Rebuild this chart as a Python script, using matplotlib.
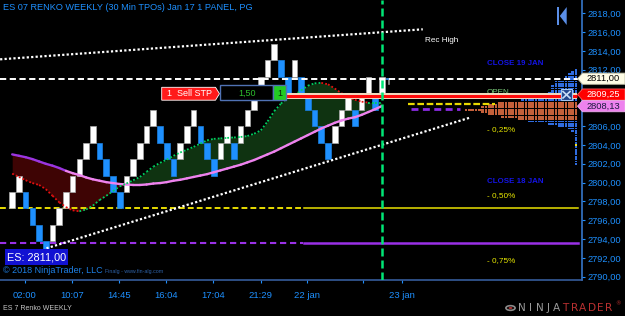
import matplotlib
matplotlib.use("Agg")
import matplotlib.pyplot as plt
import numpy as np
from matplotlib.patches import Rectangle, Polygon, Circle
from matplotlib.collections import LineCollection, PatchCollection

FONT = ['Liberation Sans', 'DejaVu Sans']
plt.rcParams['font.family'] = FONT

# ------------------------------------------------------------------ data
title = "ES 07 RENKO WEEKLY (30 Min TPOs) Jan 17 1 PANEL, PG"
brick_size = 1.75
brick_low = [2797.25, 2799.00, 2797.25, 2795.50, 2793.75, 2792.00, 2793.75, 2795.50, 2797.25, 2799.00,
             2800.75, 2802.50, 2804.25, 2802.50, 2800.75, 2799.00, 2797.25, 2799.00, 2800.75, 2802.50,
             2804.25, 2806.00, 2804.25, 2802.50, 2800.75, 2802.50, 2804.25, 2806.00, 2804.25, 2802.50,
             2800.75, 2802.50, 2804.25, 2802.50, 2804.25, 2806.00, 2807.75, 2809.50, 2811.25, 2813.00,
             2811.25, 2809.50, 2811.25, 2809.50, 2807.75, 2806.00, 2804.25, 2802.50, 2804.25, 2806.00,
             2807.75, 2806.00, 2807.75, 2809.50, 2807.75, 2809.50]
brick_dir = "UUDDDDUUUUUUUDDDDUUUUUDDDUUUDDDUUDUUUUUUDDUDDDDDUUUDUUDU"

ma_slow = [2803.00, 2802.85, 2802.70, 2802.50, 2802.25, 2802.00, 2801.80, 2801.55, 2801.25, 2801.00,
           2800.80, 2800.55, 2800.35, 2800.20, 2800.05, 2799.95, 2799.85, 2799.80, 2799.75, 2799.75,
           2799.80, 2799.90, 2799.95, 2800.05, 2800.20, 2800.30, 2800.45, 2800.60, 2800.75, 2800.90,
           2801.10, 2801.30, 2801.50, 2801.70, 2801.90, 2802.15, 2802.40, 2802.70, 2803.00, 2803.30,
           2803.65, 2804.00, 2804.35, 2804.70, 2805.05, 2805.40, 2805.75, 2806.05, 2806.35, 2806.60,
           2806.80, 2806.95, 2807.20, 2807.50, 2807.80, 2808.13]
ma_fast = [2800.95, 2800.60, 2800.25, 2799.95, 2799.75, 2799.30, 2798.60, 2797.90, 2797.40, 2797.05,
           2796.95, 2797.15, 2797.55, 2798.15, 2798.60, 2799.10, 2799.60, 2799.90, 2800.25, 2800.60,
           2801.15, 2801.70, 2802.10, 2802.45, 2802.85, 2803.20, 2803.50, 2803.80, 2804.15, 2804.50,
           2804.65, 2804.70, 2804.75, 2804.80, 2804.85, 2804.95, 2805.20, 2805.55, 2806.50, 2807.60,
           2808.40, 2809.00, 2809.30, 2809.80, 2810.30, 2810.55, 2810.60, 2810.45, 2810.00, 2809.50,
           2809.10, 2808.80, 2808.60, 2808.50, 2808.50, 2808.50]

time_tick_pos = [1.9, 8.9, 15.9, 22.9, 29.9, 37.0, 43.9, 52.2, 58.05]
time_tick_labels = ['02:00', '10:07', '14:45', '16:04', '17:04', '21:29', '22 jan', '', '23 jan']
price_ticks = [2790, 2792, 2794, 2796, 2798, 2800, 2802, 2804, 2806, 2808, 2810, 2812, 2814, 2816, 2818]
price_hidden = [2808, 2810]   # covered by the price markers

last_price = 2811.00
stop_price = 2809.25
ma_last = 2808.13
stop_qty = "1,50"
level_yellow = 2797.25
level_purple = 2793.55
session_col = 43.3          # start of 22 jan session
now_col = 55.1              # current bar (green vertical)

trend_upper_x = [-1.8, 61.1]
trend_upper_y = [2813.10, 2816.29]
trend_lower_x = [5.1, 68.1]
trend_lower_y = [2793.02, 2806.90]
proj_yellow_x = [58.9, 71.9]
proj_yellow_y = 2808.32
proj_purple_x = [59.3, 66.6]
proj_purple_y = 2807.82

profile_price = [2812.00, 2811.75, 2811.50, 2811.25, 2811.00, 2810.75, 2810.50, 2810.25, 2810.00, 2809.75,
                 2809.50, 2809.25, 2809.00, 2808.75, 2808.50, 2808.25, 2808.00, 2807.75, 2807.50, 2807.25,
                 2807.00, 2806.75, 2806.50, 2806.25, 2806.00, 2805.75, 2805.50, 2805.25, 2805.00, 2804.75,
                 2804.50, 2804.25, 2804.00, 2803.75, 2803.50, 2803.25, 2803.00, 2802.75, 2802.50, 2802.25,
                 2802.00]
profile_count = [1, 2, 3, 4, 4, 7, 7, 8, 8, 8,
                 9, 12, 17, 17, 24, 27, 29, 34, 29, 27,
                 23, 18, 15, 9, 6, 3, 2, 1, 1, 1,
                 1, 1, 1, 1, 1, 1, 1, 1, 1, 1,
                 1]
value_area = [2806.75, 2808.50]
profile_mark = 2804.00

# ------------------------------------------------------------------ figure
W, H = 625, 316
fig = plt.figure(figsize=(W / 100, H / 100), dpi=100, facecolor='black')
AXR, AXB = 581.7, 280.0
ax = fig.add_axes([0, 1 - AXB / H, AXR / W, AXB / H])
ax.set_facecolor('black')
ax.set_xlim(-1.815, 84.75)
ax.set_ylim(2789.65, 2819.405)


def fx(px):
    return px / W


def fy(py):
    return 1 - py / H


def pcol(px):          # figure pixel -> column position (annotation placement)
    return (px - 12.2) / 6.72


def ypx(price):        # price -> figure pixel row
    return H - ax.transData.transform((0, price))[1]


FT = fig.transFigure
cols = np.arange(len(brick_low))
mcols = np.arange(len(ma_slow))
slow = np.array(ma_slow)
fast = np.array(ma_fast)

# fill between averages
ax.fill_between(mcols, slow, fast, where=fast < slow, interpolate=True, color='#3E0404', lw=0, zorder=1)
ax.fill_between(mcols, slow, fast, where=fast >= slow, interpolate=True, color='#0F3311', lw=0, zorder=1)

# horizontal levels
ax.plot([-1.815, session_col], [level_yellow] * 2, color='#E8DC00', lw=1.4, ls=(0, (3, 1.6)), zorder=2)
ax.plot([session_col + 0.1, pcol(578)], [level_yellow] * 2, color='#E8E000', lw=1.1, zorder=2)
ax.plot([-1.815, session_col], [level_purple] * 2, color='#9A30E6', lw=1.5, ls=(0, (3, 1.8)), zorder=2)
ax.plot([session_col + 0.1, pcol(578)], [level_purple] * 2, color='#9A30E6', lw=1.8, zorder=2)

# bricks
up = np.array([c == 'U' for c in brick_dir])
low = np.array(brick_low)
ax.bar(cols[up], brick_size, bottom=low[up], width=0.84, color='white', edgecolor='#A8A8A8', lw=0.5, zorder=3)
ax.bar(cols[~up], brick_size, bottom=low[~up], width=0.84, color='#1E90FF', edgecolor='#1A7FE0', lw=0.5, zorder=3)

# forming brick marker
ax.plot([len(brick_low) + 0.05] * 2, [last_price - 0.55, last_price - 0.05], color='#909090', lw=1.2, zorder=3)
ax.plot([len(brick_low) - 0.25, len(brick_low) + 0.35], [last_price] * 2, color='#3A8EE8', lw=1.3, zorder=3)

# volume/TPO profile
blocks_b, blocks_o, blocks_y = [], [], []
right_col = pcol(577.3)
step = 3.33 / 6.72
bw = 2.6 / 6.72
for p, n in zip(profile_price, profile_count):
    for k in range(n):
        r = Rectangle((right_col - k * step - bw, p - 0.095), bw, 0.19)
        if p == profile_mark and k == 0:
            blocks_y.append(r)
        elif value_area[0] <= p <= value_area[1]:
            blocks_o.append(r)
        else:
            blocks_b.append(r)
ax.add_collection(PatchCollection(blocks_b, facecolor='#2F6CE0', edgecolor='none', zorder=4))
ax.add_collection(PatchCollection(blocks_o, facecolor='#C4603A', edgecolor='none', zorder=4))
ax.add_collection(PatchCollection(blocks_y, facecolor='#F0E020', edgecolor='none', zorder=4))

# slow average (purple falling / violet rising)
pts = np.column_stack([mcols, slow])
segs = np.stack([pts[:-1], pts[1:]], axis=1)
seg_cols = ['#9B35E0' if i < 8 else '#EE82EE' for i in range(len(segs))]
ax.add_collection(LineCollection(segs, colors=seg_cols, linewidths=1.7, zorder=6, capstyle='round'))

# fast average dotted, green rising red falling
pts = np.column_stack([mcols, fast])
segs = np.stack([pts[:-1], pts[1:]], axis=1)
seg_cols = ['#00D060' if fast[i + 1] >= fast[i] else '#E81010' for i in range(len(segs))]
ax.add_collection(LineCollection(segs, colors=seg_cols, linewidths=1.3, linestyles=[(0, (1, 1.2))], zorder=6))

# trend lines
ax.plot(trend_upper_x, trend_upper_y, color='white', lw=1.6, ls=(0, (1, 1)), dash_capstyle='butt', zorder=7)
ax.plot(trend_lower_x, trend_lower_y, color='white', lw=1.6, ls=(0, (1, 1)), dash_capstyle='butt', zorder=7)

# projections
ax.plot(proj_yellow_x, [proj_yellow_y] * 2, color='#E8D800', lw=1.6, ls=(0, (3, 1.2)), zorder=7)
ax.plot(proj_purple_x, [proj_purple_y] * 2, color='#8A2BE2', lw=2.0, ls=(0, (2.5, 1.6)), zorder=7)

# last price dashed line
ax.plot([-1.815, pcol(578)], [last_price] * 2, color='white', lw=1.4, ls=(0, (3.2, 1.8)), zorder=7)

# OPEN label (partly behind the stop line)
ax.text(fx(487), fy(92.3), 'OPEN', transform=FT, color='#78C878', fontsize=5.9, va='center', ha='left', zorder=7.5)

# stop line
ax.plot([pcol(286), pcol(577)], [stop_price] * 2, color='#F2DCC0', lw=4.3, solid_capstyle='butt', zorder=8)
ax.plot([pcol(286), pcol(577)], [stop_price] * 2, color='#FF0A0A', lw=2.2, solid_capstyle='butt', zorder=8.1)

# current bar vertical
ax.axvline(now_col, color='#00E676', lw=1.8, ls=(0, (3.2, 1.6)), zorder=9)

# ticks & spines
ax.yaxis.tick_right()
ax.set_yticks(price_ticks)
ax.set_yticklabels(['' if p in price_hidden else f"{p:.2f}".replace('.', ',') for p in price_ticks])
ax.tick_params(axis='y', colors='#1E90FF', length=2.5, width=0.8, pad=1.6, labelsize=6.7)
ax.set_xticks(time_tick_pos)
ax.set_xticklabels(time_tick_labels)
ax.tick_params(axis='x', colors='#1E90FF', length=2.5, width=0.8, pad=5.3, labelsize=6.8)
for s in ['top', 'left']:
    ax.spines[s].set_visible(False)
ax.spines['right'].set_color('#3A80DA')
ax.spines['right'].set_linewidth(1.1)
ax.spines['bottom'].set_color('#3A64A8')
ax.spines['bottom'].set_linewidth(1.1)


# ------------------------------------------------------------------ annotations
def label(x, y, s, **kw):
    kw.setdefault('va', 'center')
    kw.setdefault('ha', 'left')
    kw.setdefault('zorder', 20)
    return ax.text(fx(x), fy(y), s, transform=FT, clip_on=False, **kw)


label(3, 8, title, color='#1E90FF', fontsize=6.6)
label(425, 40, 'Rec High', color='white', fontsize=5.9)
label(487, 63.3, 'CLOSE 19 JAN', color='#1414E6', fontsize=5.7, fontweight='bold')
label(487, 130, '- 0,25%', color='#E8E800', fontsize=5.9)
label(487, 181, 'CLOSE 18 JAN', color='#1414E6', fontsize=5.7, fontweight='bold')
label(487, 195.5, '- 0,50%', color='#E8E800', fontsize=5.9)
label(487, 261, '- 0,75%', color='#E8E800', fontsize=5.9)

# Sell STP order marker
fig.patches.append(Polygon([(fx(161.7), fy(87.3)), (fx(215.5), fy(87.3)), (fx(219.5), fy(93.7)),
                            (fx(215.5), fy(100.2)), (fx(161.7), fy(100.2))], closed=True,
                           transform=FT, facecolor='#FF1A1A', edgecolor='white', lw=0.6, zorder=15))
fig.patches.append(Rectangle((fx(220), fy(100.5)), fx(53.3), 15.2 / H, transform=FT,
                             facecolor='black', edgecolor='#5072B4', lw=1.0, zorder=15))
fig.patches.append(Rectangle((fx(273.3), fy(100.5)), fx(12.4), 15.2 / H, transform=FT,
                             facecolor='#22CC22', edgecolor='#5072B4', lw=1.0, zorder=15))
fig.text(fx(167), fy(93.8), '1  Sell STP', color='white', fontsize=6.5, va='center', ha='left', zorder=16)
fig.text(fx(246.7), fy(93), stop_qty, color='#2DBE2D', fontsize=6.5, va='center', ha='center', zorder=16)
fig.text(fx(279.5), fy(93), '1', color='#0A200A', fontsize=6.5, va='center', ha='center', zorder=16)

# close-order X box
fig.patches.append(Rectangle((fx(561), fy(100)), fx(11), 10.7 / H, transform=FT,
                             facecolor='#22458C', edgecolor='#A0C4F0', lw=0.8, zorder=15))
fig.lines.append(plt.Line2D([fx(563), fx(570)], [fy(91.5), fy(98)], transform=FT, color='#C8DCF8', lw=1.2, zorder=16))
fig.lines.append(plt.Line2D([fx(563), fx(570)], [fy(98), fy(91.5)], transform=FT, color='#C8DCF8', lw=1.2, zorder=16))


# price markers on the axis
def price_tag(yc, s, face, txt, edge):
    h = 5.6
    fig.patches.append(Polygon([(fx(577.5), fy(yc)), (fx(582.5), fy(yc - h)), (fx(625), fy(yc - h)),
                                (fx(625), fy(yc + h)), (fx(582.5), fy(yc + h))], closed=True,
                               transform=FT, facecolor=face, edgecolor=edge, lw=0.6, zorder=17))
    fig.text(fx(587), fy(yc), s, color=txt, fontsize=6.7, va='center', ha='left', zorder=18)


fmt = lambda v: f"{v:.2f}".replace('.', ',')
price_tag(ypx(last_price) - 0.4, fmt(last_price), '#FFFDE6', 'black', '#B8B8A0')
price_tag(ypx(stop_price) - 1.0, fmt(stop_price), '#FF0000', 'white', '#FF6060')
price_tag(ypx(stop_price) + 10.6, fmt(ma_last), '#EE82EE', '#1A1A40', '#F0B0F0')

# navigation icon
fig.patches.append(Rectangle((fx(556.7), fy(25)), fx(2.6), 18 / H, transform=FT, facecolor='#5B8FE8', zorder=15))
fig.patches.append(Polygon([(fx(559.8), fy(16)), (fx(566.7), fy(7)), (fx(566.7), fy(25))], closed=True,
                           transform=FT, facecolor='#5B8FE8', zorder=15))

# bottom-left boxes / texts
fig.patches.append(Rectangle((fx(5), fy(265)), fx(63.3), 15.7 / H, transform=FT,
                             facecolor='#1212D2', edgecolor='none', zorder=15))
fig.text(fx(7.3), fy(257.2), f"ES: {fmt(last_price)}", color='white', fontsize=7.8, va='center', ha='left', zorder=16)
fig.text(fx(2.7), fy(270.3), '\u00a9 2018 NinjaTrader, LLC', color='#1E80E6', fontsize=6.5, va='center', ha='left', zorder=16)
fig.text(fx(105), fy(271.8), 'Finalg - www.fin-alg.com', color='#2E62A8', fontsize=3.8, va='center', ha='left', zorder=16)
fig.text(fx(3.3), fy(309), 'ES 7 Renko WEEKLY', color='#C8C8C8', fontsize=5.0, va='center', ha='left', zorder=16)

# NinjaTrader logo
fig.patches.append(Circle((fx(510.5), fy(308)), 4.6 / W, transform=FT,
                          facecolor='none', edgecolor='#8A8A8A', lw=1.2, zorder=15))
fig.patches.append(Circle((fx(510.5), fy(308)), 2.0 / W, transform=FT,
                          facecolor='#B03030', edgecolor='none', zorder=15))
logo = "NINJATRADER"
for i, ch in enumerate(logo):
    fig.text(fx(522 + i * 8.7), fy(308), ch, color='#9A9A9A' if i < 5 else '#B83030', fontsize=7.6,
             va='center', ha='center', family=['DejaVu Sans'], zorder=16)
fig.text(fx(615), fy(304), '\u00ae', color='#B83030', fontsize=4, va='center', ha='left',
         family=['DejaVu Sans'], zorder=16)

fig.savefig('out.png', dpi=100, facecolor='black')
